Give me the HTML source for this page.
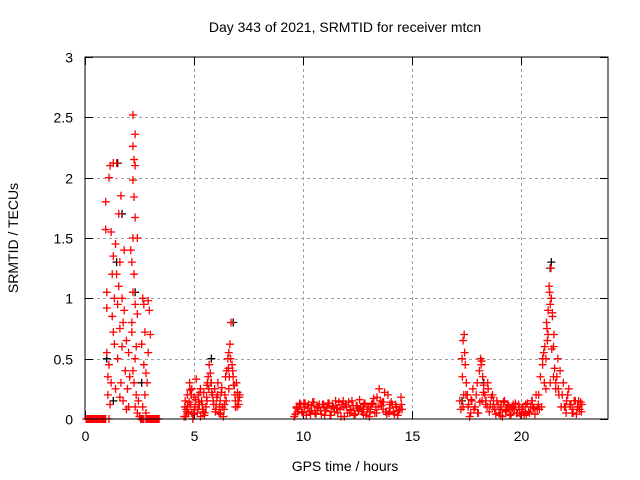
<!DOCTYPE html>
<html><head><meta charset="utf-8"><style>
html,body{margin:0;padding:0;background:#fff;}
svg{display:block;font-family:"Liberation Sans",sans-serif;}
</style></head><body>
<svg id="chart" width="640" height="480" viewBox="0 0 640 480">
<rect width="640" height="480" fill="#fff"/>
<text x="345" y="32" font-size="14" text-anchor="middle">Day 343 of 2021, SRMTID for receiver mtcn</text>
<text x="345" y="471" font-size="14" text-anchor="middle">GPS time / hours</text>
<text transform="translate(18,238) rotate(-90)" font-size="14" text-anchor="middle">SRMTID / TECUs</text>
<g id="grid"></g>
<g id="ticks"></g>
<g id="black"></g>
<g id="red"></g>
<rect x="85" y="57" width="523" height="362" fill="none" stroke="#000" stroke-width="1"/>
</svg>
<script>
const xTicks=[0,5,10,15,20];
const yTicks=[0,0.5,1,1.5,2,2.5,3];
const yTickLabels=["0","0.5","1","1.5","2","2.5","3"];
const redX=[0.05,0.15,0.25,0.35,0.45,0.55,0.65,0.75,0.85,0.95,1.1,2.55,2.65,2.8,2.9,3.0,3.1,3.2,3.3,3.4,
0.95,0.95,1.0,1.0,1.0,1.05,1.1,1.15,1.2,1.2,1.25,1.3,1.3,1.3,1.35,1.4,1.4,1.45,1.45,1.5,1.5,1.55,1.55,1.6,1.6,1.65,1.7,1.7,1.75,1.75,1.8,1.85,1.9,1.95,2.0,2.0,1.8,1.65,1.25,1.1,1.15,
2.2,2.3,2.2,2.25,2.3,2.2,2.25,2.3,2.2,2.15,2.25,2.2,2.3,2.4,2.4,2.15,2.35,2.3,2.2,2.25,2.35,2.3,2.15,2.1,2.4,
2.65,2.7,2.75,2.6,2.7,2.8,2.75,2.9,2.95,2.85,2.65,2.9,3.0,2.8,
4.55,4.6,4.65,4.7,4.75,4.8,4.85,4.9,4.95,5.0,5.05,5.1,5.15,5.2,5.25,5.3,5.35,5.4,5.45,5.5,5.55,5.6,5.65,5.7,5.75,5.8,5.85,5.9,5.95,6.0,6.05,6.1,6.15,6.2,6.25,6.3,6.35,6.4,6.45,6.5,6.55,6.6,6.65,6.7,6.75,6.8,6.85,6.9,6.95,7.0,7.05,7.1,5.3,4.9,6.6,4.7,5.6,6.9,
9.6,9.7,9.8,9.9,10.0,10.1,10.2,10.3,10.4,10.5,10.6,10.7,10.8,10.9,11.0,11.1,11.2,11.3,11.4,11.5,11.6,11.7,11.8,11.9,12.0,12.1,12.2,12.3,12.4,12.5,12.6,12.7,12.8,12.9,13.0,13.1,13.2,13.3,13.4,13.5,13.6,13.7,13.8,13.9,14.0,14.1,14.2,14.3,14.4,14.5,
9.75,10.05,10.35,10.65,10.95,11.25,11.55,11.85,12.15,12.45,12.75,13.05,13.35,13.65,13.95,14.25,14.55,
17.2,17.3,17.35,17.4,17.45,17.5,17.55,17.6,17.7,17.8,17.9,18.0,18.1,18.15,18.2,18.25,18.3,18.35,18.4,18.5,18.6,18.7,18.8,18.9,19.0,19.1,19.2,19.3,19.4,19.5,19.6,19.7,19.8,19.9,20.0,20.1,20.2,20.3,20.4,20.5,20.6,20.7,20.8,20.9,21.0,21.05,21.1,21.15,21.2,21.25,21.3,21.35,21.4,21.45,21.5,21.55,21.6,21.7,21.8,21.9,22.0,22.1,22.2,22.3,22.4,22.5,22.6,22.7,22.8,
17.35,17.55,17.75,18.05,18.45,18.75,19.05,19.35,19.65,19.95,20.25,20.55,20.85,21.15,21.35,21.5,21.75,22.05,22.35,22.65,21.0,21.25,21.45,21.6];
const redY=[0,0,0,0,0,0,0,0,0,0,0,0,0,0,0,0,0,0,0,0,
1.8,1.57,1.05,0.92,0.55,0.2,2.0,2.1,1.55,0.3,1.2,2.12,1.35,0.72,1.0,1.45,0.25,2.12,1.2,0.95,0.5,1.7,1.1,1.3,0.75,0.3,0.6,1.0,0.8,0.15,0.9,0.4,0.65,0.25,0.55,0.1,1.4,1.85,0.85,0.45,0.12,
2.52,2.36,2.26,2.15,2.1,1.98,1.84,1.67,1.5,1.3,1.2,1.05,0.95,1.5,0.87,0.72,0.6,0.5,0.4,0.3,0.2,0.1,0.8,1.4,0.05,
1.0,0.95,0.72,0.62,0.45,0.38,0.2,0.98,0.9,0.3,0.1,0.55,0.7,0.05,
0.02,0.15,0.08,0.2,0.05,0.3,0.12,0.25,0.0,0.18,0.1,0.33,0.05,0.2,0.12,0.02,0.15,0.08,0.22,0.05,0.1,0.28,0.35,0.45,0.38,0.3,0.2,0.12,0.25,0.08,0.18,0.3,0.05,0.15,0.22,0.1,0.02,0.12,0.35,0.4,0.5,0.55,0.62,0.8,0.45,0.35,0.28,0.15,0.3,0.22,0.12,0.2,0.25,0.05,0.25,0.1,0.15,0.1,
0.02,0.1,0.08,0.12,0.05,0.13,0.09,0.06,0.11,0.14,0.04,0.1,0.07,0.12,0.03,0.09,0.13,0.06,0.1,0.15,0.05,0.08,0.12,0.02,0.1,0.14,0.07,0.11,0.04,0.09,0.16,0.06,0.12,0.03,0.1,0.08,0.13,0.05,0.18,0.25,0.11,0.14,0.06,0.2,0.09,0.12,0.04,0.1,0.07,0.18,
0.06,0.13,0.04,0.1,0.12,0.03,0.09,0.15,0.05,0.11,0.08,0.02,0.1,0.14,0.05,0.12,0.08,
0.15,0.5,0.65,0.7,0.45,0.3,0.2,0.12,0.05,0.25,0.1,0.3,0.4,0.5,0.48,0.35,0.28,0.2,0.15,0.25,0.12,0.2,0.08,0.15,0.05,0.1,0.14,0.06,0.12,0.03,0.1,0.08,0.05,0.12,0.03,0.1,0.06,0.13,0.05,0.15,0.09,0.2,0.12,0.35,0.45,0.55,0.6,0.5,0.75,0.9,1.1,0.95,1.0,0.85,0.6,0.42,0.3,0.5,0.4,0.2,0.1,0.15,0.25,0.12,0.05,0.15,0.1,0.08,0.12,
0.1,0.2,0.15,0.05,0.1,0.15,0.03,0.08,0.12,0.05,0.04,0.1,0.08,0.25,0.3,0.35,0.2,0.1,0.05,0.15,0.5,0.7,0.88,0.25];
const redX2=[0.1,0.2,0.3,0.4,0.5,0.6,0.7,0.8,0.9,2.6,2.7,2.85,2.95,3.05,3.15,3.25,3.35,1.05,1.35,1.6,1.9,2.05,2.45,2.5,
4.58,4.68,4.78,4.88,4.98,5.08,5.18,5.28,5.38,5.48,5.58,5.68,5.78,5.88,5.98,6.08,6.18,6.28,6.38,6.48,6.58,6.68,6.78,6.88,6.98,7.08,4.62,4.82,5.02,5.22,5.42,5.62,5.82,6.02,6.22,6.42,6.62,6.82,7.02,
9.65,9.72,9.85,9.95,10.08,10.15,10.25,10.38,10.45,10.55,10.68,10.75,10.85,10.98,11.05,11.15,11.28,11.35,11.45,11.58,11.65,11.75,11.88,11.95,12.05,12.18,12.25,12.35,12.48,12.55,12.65,12.78,12.85,12.95,13.08,13.15,13.25,13.38,13.45,13.55,13.68,13.75,13.85,13.98,14.05,14.15,14.28,14.35,14.45,14.52,
17.25,17.32,17.42,17.48,17.58,17.65,17.72,17.85,17.95,18.02,18.12,18.18,18.28,18.38,18.48,18.55,18.65,18.72,18.85,18.95,19.05,19.15,19.25,19.32,19.45,19.55,19.62,19.75,19.85,19.92,20.05,20.15,20.22,20.35,20.45,20.52,20.65,20.75,20.82,20.95,21.08,21.22,21.38,21.52,21.65,21.72,21.85,21.95,22.08,22.15,22.25,22.38,22.45,22.55,22.62,22.75,22.78,21.18,21.32,21.42,17.38,18.22];
const redY2=[0,0,0,0,0,0,0,0,0,0,0,0,0,0,0,0,0,0.35,0.62,0.18,0.08,0.35,0.15,0.02,
0.1,0.06,0.14,0.2,0.04,0.16,0.08,0.22,0.12,0.03,0.18,0.25,0.3,0.15,0.06,0.2,0.1,0.26,0.08,0.15,0.42,0.5,0.4,0.2,0.1,0.18,0.02,0.24,0.08,0.14,0.06,0.3,0.22,0.12,0.04,0.2,0.35,0.28,0.15,
0.04,0.09,0.13,0.06,0.1,0.03,0.12,0.07,0.14,0.05,0.09,0.12,0.04,0.1,0.07,0.13,0.03,0.11,0.06,0.09,0.14,0.02,0.1,0.12,0.05,0.08,0.15,0.03,0.11,0.07,0.1,0.04,0.13,0.08,0.06,0.12,0.17,0.05,0.1,0.15,0.08,0.22,0.04,0.12,0.14,0.06,0.1,0.03,0.08,0.12,
0.08,0.35,0.55,0.2,0.1,0.02,0.16,0.08,0.2,0.05,0.14,0.45,0.22,0.12,0.3,0.06,0.18,0.1,0.04,0.12,0.08,0.02,0.15,0.07,0.11,0.04,0.09,0.13,0.05,0.1,0.08,0.03,0.12,0.06,0.1,0.15,0.04,0.08,0.2,0.1,0.3,0.65,1.25,0.7,0.35,0.25,0.1,0.3,0.05,0.2,0.12,0.08,0.15,0.04,0.1,0.14,0.06,0.8,1.05,0.58,0.2,0.15];
const blackX=[1.5,1.7,1.0,1.3,2.3,1.45,6.8,5.8,21.4,21.35,17.3,18.3,2.6];
const blackY=[2.12,1.7,0.5,0.15,1.05,1.3,0.8,0.5,1.3,1.25,0.15,0.3,0.3];
const NS="http://www.w3.org/2000/svg";
const L=85,R=608,T=57,B=419,XMAX=24,YMAX=3;
function sx(v){return L+v*(R-L)/XMAX;}
function sy(v){return B-v*(B-T)/YMAX;}
const grid=document.getElementById('grid'),ticks=document.getElementById('ticks');
function ln(g,x1,y1,x2,y2,st,dash){const e=document.createElementNS(NS,'line');e.setAttribute('x1',x1);e.setAttribute('y1',y1);e.setAttribute('x2',x2);e.setAttribute('y2',y2);e.setAttribute('stroke',st);if(dash)e.setAttribute('stroke-dasharray',dash);g.appendChild(e);return e;}
function tx(s,x,y,anchor){const e=document.createElementNS(NS,'text');e.setAttribute('x',x);e.setAttribute('y',y);e.setAttribute('font-size','14');e.setAttribute('text-anchor',anchor);e.textContent=s;ticks.appendChild(e);return e;}
xTicks.forEach(v=>{const x=Math.round(sx(v))+0.5;
 if(v>0){const g=ln(grid,x,T,x,B,'#a0a0a0','3,3');}
 ln(ticks,x,B,x,B-8,'#000');ln(ticks,x,T,x,T+8,'#000');
 const t=tx(String(v),x,B+22,'middle');
 
 });
yTicks.forEach((v,i)=>{const y=Math.round(sy(v))+0.5;
 if(v>0&&v<3){const g=ln(grid,L,y,R,y,'#a0a0a0','3,3');}
 ln(ticks,L,y,L+8,y,'#000');ln(ticks,R,y,R-8,y,'#000');
 const t=tx(yTickLabels[i],L-12,y+5,'end');
 
 });
function plot(gid,xs,ys,col,nm){const g=document.getElementById(gid);let d='';
 xs.forEach((v,i)=>{const x=sx(v),y=sy(ys[i]);d+='M'+(x-4)+' '+y+'h8M'+x+' '+(y-4)+'v8';});
 const p=document.createElementNS(NS,'path');p.setAttribute('d',d);p.setAttribute('stroke',col);p.setAttribute('stroke-width','1.3');p.setAttribute('fill','none');
 
 
 g.appendChild(p);}
plot('black',blackX,blackY,'#000','black-points');
plot('red',redX,redY,'#ff0000','red-points');
plot('red',redX2,redY2,'#ff0000','red-points-extra');
</script>
</body></html>
